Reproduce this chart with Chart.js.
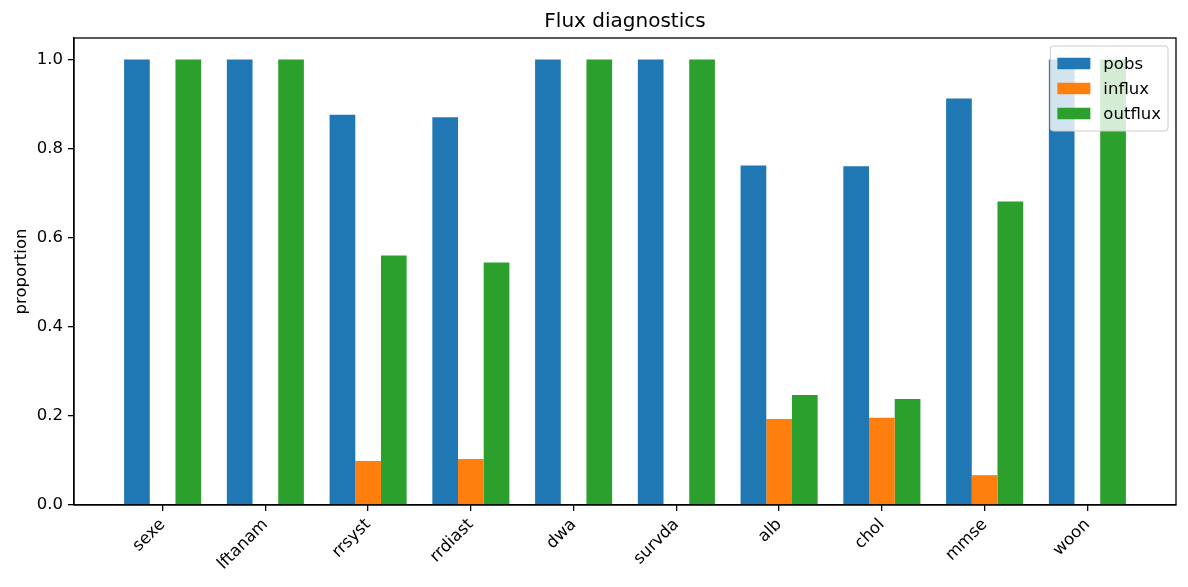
<!DOCTYPE html>
<html>
<head>
<meta charset="utf-8">
<script src="https://cdn.jsdelivr.net/npm/chart.js@4"></script>
<style>
html,body{margin:0;padding:0;background:#fff;}
canvas{display:block;}
</style>
</head>
<body>
<canvas id="c" width="1188" height="587"></canvas>
<script>
const categories = ["sexe","lftanam","rrsyst","rrdiast","dwa","survda","alb","chol","mmse","woon"];
const pobs    = [1.0, 1.0, 0.876, 0.870, 1.0, 1.0, 0.762, 0.760, 0.912, 1.0];
const influx  = [0.0, 0.0, 0.099, 0.103, 0.0, 0.0, 0.193, 0.196, 0.067, 0.0];
const outflux = [1.0, 1.0, 0.560, 0.544, 1.0, 1.0, 0.247, 0.238, 0.681, 1.0];
const yTicks  = [0, 0.2, 0.4, 0.6, 0.8, 1.0];
const seriesNames = ["pobs","influx","outflux"];
const colors = ["#1f77b4","#ff7f0e","#2ca02c"];
const chartTitle = "Flux diagnostics";

const FONT = "'DejaVu Sans', sans-serif";
const toXY = arr => arr.map((v,i)=>({x:i, y:v}));

const framePlugin = {
  id: 'frame',
  afterDatasetsDraw(chart) {
    const {ctx, chartArea:a} = chart;
    ctx.save();
    ctx.strokeStyle = '#000';
    ctx.lineWidth = 1.3;
    ctx.strokeRect(a.left, a.top, a.right - a.left, a.bottom - a.top);

    // title centered over the axes
    ctx.fillStyle = '#000';
    ctx.font = "20px " + FONT;
    ctx.textAlign = 'center';
    ctx.textBaseline = 'alphabetic';
    ctx.fillText(chartTitle, (a.left + a.right) / 2, 27);
    ctx.restore();

    // legend (inside, upper right)
    const fs = 16.5;
    ctx.save();
    ctx.font = fs + "px " + FONT;
    const items = chart.data.datasets.map(d => ({label: d.label, color: d.backgroundColor}));
    let maxW = 0;
    items.forEach(it => { maxW = Math.max(maxW, ctx.measureText(it.label).width); });
    const handleW = 33, handleH = 11.5, gap = 13, padX = 7, rowH = 25, padY = 7;
    const boxW = padX + handleW + gap + maxW + padX;
    const boxH = padY*2 + rowH*items.length - 4;
    const bx = a.right - 8 - boxW;
    const by = a.top + 8;
    const r = 3;
    ctx.beginPath();
    ctx.moveTo(bx + r, by);
    ctx.lineTo(bx + boxW - r, by);
    ctx.quadraticCurveTo(bx + boxW, by, bx + boxW, by + r);
    ctx.lineTo(bx + boxW, by + boxH - r);
    ctx.quadraticCurveTo(bx + boxW, by + boxH, bx + boxW - r, by + boxH);
    ctx.lineTo(bx + r, by + boxH);
    ctx.quadraticCurveTo(bx, by + boxH, bx, by + boxH - r);
    ctx.lineTo(bx, by + r);
    ctx.quadraticCurveTo(bx, by, bx + r, by);
    ctx.closePath();
    ctx.fillStyle = 'rgba(255,255,255,0.8)';
    ctx.fill();
    ctx.strokeStyle = '#cccccc';
    ctx.lineWidth = 1;
    ctx.stroke();
    ctx.textBaseline = 'middle';
    ctx.textAlign = 'left';
    items.forEach((it, i) => {
      const cy = by + padY + rowH*i + rowH/2 - 2;
      ctx.fillStyle = it.color;
      ctx.fillRect(bx + padX, cy - handleH/2, handleW, handleH);
      ctx.fillStyle = '#000';
      ctx.fillText(it.label, bx + padX + handleW + gap, cy + 1);
    });
    ctx.restore();
  }
};

new Chart(document.getElementById('c'), {
  type: 'bar',
  data: {
    datasets: [
      {label: seriesNames[0], data: toXY(pobs), backgroundColor: colors[0]},
      {label: seriesNames[1], data: toXY(influx), backgroundColor: colors[1]},
      {label: seriesNames[2], data: toXY(outflux), backgroundColor: colors[2]}
    ]
  },
  options: {
    responsive: false,
    animation: false,
    devicePixelRatio: 1,
    layout: {padding: {left: 0, right: 12, top: 38, bottom: 0}},
    datasets: {bar: {categoryPercentage: 0.75, barPercentage: 1.0, borderWidth: 0}},
    plugins: {
      legend: {display: false},
      tooltip: {enabled: false},
      title: {display: false}
    },
    scales: {
      x: {
        type: 'linear',
        offset: false,
        min: -0.8625,
        max: 9.8625,
        afterBuildTicks(scale) { scale.ticks = categories.map((_, i) => ({value: i})); },
        afterFit(scale) { scale.height = 82; },
        grid: {display: true, offset: false, drawOnChartArea: false, drawTicks: true, tickLength: 6, color: '#000', lineWidth: 1.3},
        border: {display: true, color: '#000', width: 1.3},
        ticks: {
          autoSkip: false,
          minRotation: 45,
          maxRotation: 45,
          padding: 4,
          color: '#000',
          font: {family: FONT, size: 16.5},
          callback: (v) => categories[v] !== undefined ? categories[v] : ''
        }
      },
      y: {
        min: 0,
        max: 1.048,
        afterBuildTicks(scale) { scale.ticks = yTicks.map(v => ({value: v})); },
        afterFit(scale) { scale.width = 74; },
        grid: {display: true, drawOnChartArea: false, drawTicks: true, tickLength: 6, color: '#000', lineWidth: 1.3},
        border: {display: true, color: '#000', width: 1.3},
        title: {display: true, text: 'proportion', color: '#000', font: {family: FONT, size: 16.5}, padding: {top: 12, bottom: 0}},
        ticks: {
          padding: 5,
          color: '#000',
          font: {family: FONT, size: 16.5},
          callback: (v) => Number(v).toFixed(1)
        }
      }
    }
  },
  plugins: [framePlugin]
});
</script>
</body>
</html>
